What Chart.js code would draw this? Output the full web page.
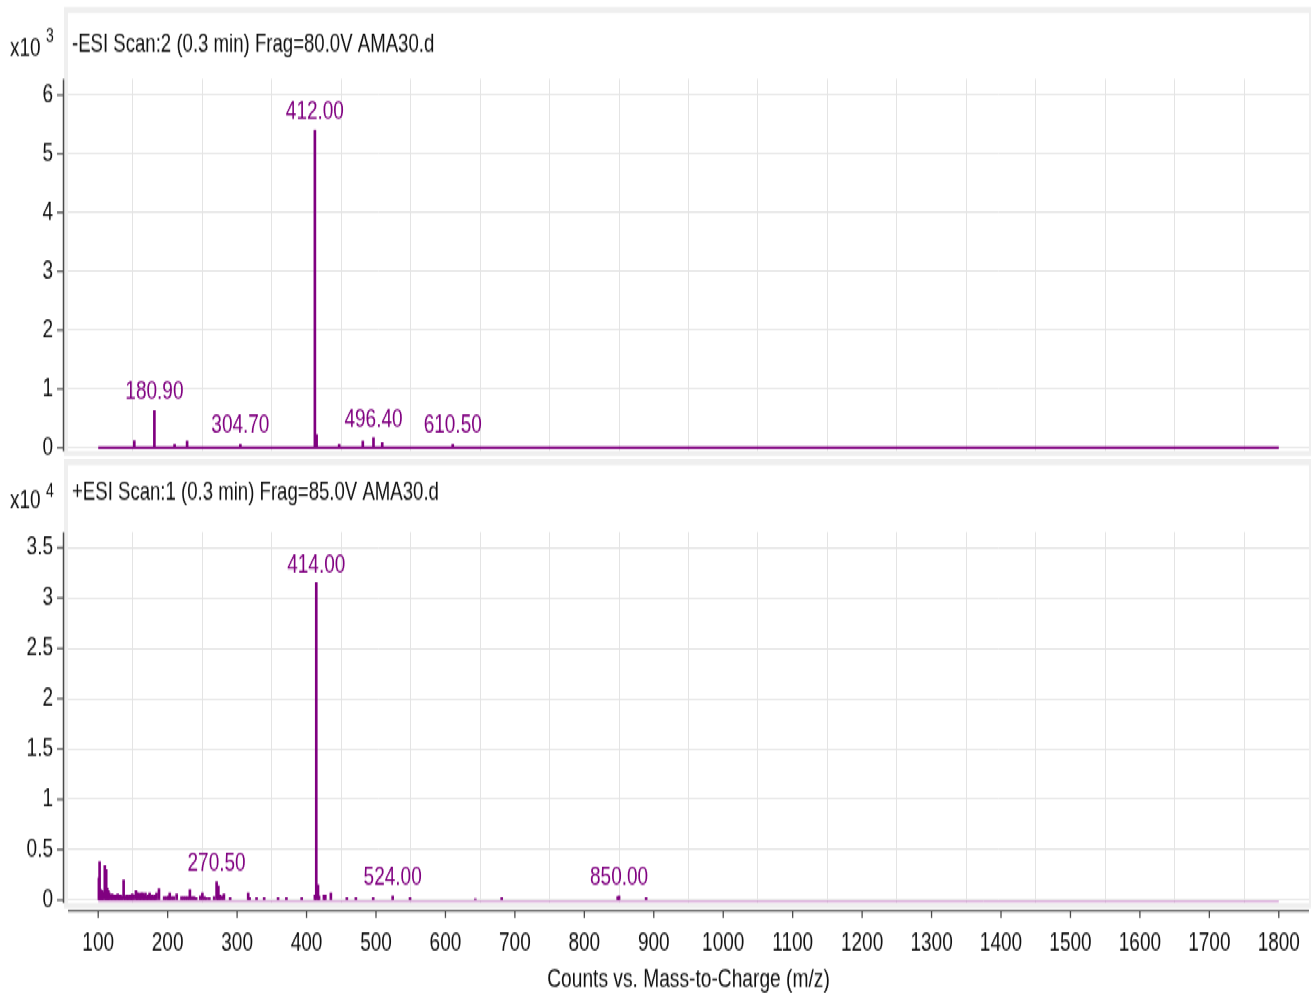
<!DOCTYPE html>
<html><head><meta charset="utf-8">
<script src="https://cdn.jsdelivr.net/npm/chart.js@4.4.1/dist/chart.umd.min.js"></script>
<style>
html,body{margin:0;padding:0;background:#fff;overflow:hidden;width:1311px;height:1001px;}
#wrap{position:absolute;left:0;top:0;width:1311px;transform-origin:0 0;}
canvas{display:block;}
</style></head><body>
<div id="wrap"><canvas id="cTop"></canvas><canvas id="cBot"></canvas></div>
<script>
// ---------------- DATA ----------------
const xTicks = [100,200,300,400,500,600,700,800,900,1000,1100,1200,1300,1400,1500,1600,1700,1800];
const xTitle = 'Counts vs. Mass-to-Charge (m/z)';
const baselineMz = [100, 1800];

// Panel 1: -ESI (x10^3)
const negTitle = '-ESI Scan:2 (0.3 min) Frag=80.0V AMA30.d';
const negExponent = '3';
const negYTicks = [0,1,2,3,4,5,6];
const negBaseline = [0, 0];
const negPeakMz  = [152, 180.9, 210, 228, 304.7, 412.0, 414.5, 447, 481, 496.4, 509, 610.5];
const negPeakInt = [0.12, 0.63, 0.06, 0.11, 0.06, 5.40, 0.22, 0.06, 0.11, 0.17, 0.08, 0.06];
const negLabelMz = [180.9, 304.7, 412.0, 496.4, 610.5];
const negLabelText = ['180.90', '304.70', '412.00', '496.40', '610.50'];

// Panel 2: +ESI (x10^4)
const posTitle = '+ESI Scan:1 (0.3 min) Frag=85.0V AMA30.d';
const posExponent = '4';
const posYTicks = [0,0.5,1,1.5,2,2.5,3,3.5];
const posBaseline = [-0.015, -0.015];
const posPeakMz = [101,102,104,105.5,107,109.5,111.5,113,114.5,116,118,120,122,124,126,128,130,132,134,136.6,139,141,143,145,147,149,151,154.3,156,158,160,162,164,166,168,170,172,174,176,178,180,182,184,187.5,
  195,198,201,203,206,209,213,220,223,226,229,232,235,238,241,247,250,253,256,260,267,270.5,273,275,278,281,290,316,318,328,339,359,371,393,
  412,414.0,416.5,418,425,427,435,458,471,496,524.0,549,643,681,848,850.0,889];
const posPeakInt = [0.22,0.38,0.10,0.09,0.08,0.34,0.30,0.12,0.09,0.07,0.05,0.06,0.05,0.05,0.05,0.06,0.05,0.05,0.04,0.20,0.04,0.05,0.04,0.05,0.05,0.06,0.05,0.09,0.07,0.07,0.06,0.07,0.07,0.05,0.07,0.04,0.05,0.07,0.04,0.05,0.04,0.05,0.07,0.11,
  0.03,0.03,0.04,0.07,0.03,0.03,0.06,0.03,0.03,0.03,0.03,0.10,0.03,0.03,0.02,0.04,0.07,0.03,0.02,0.02,0.03,0.18,0.14,0.05,0.04,0.06,0.02,0.07,0.02,0.02,0.02,0.02,0.02,0.02,
  0.05,3.15,0.15,0.04,0.05,0.05,0.07,0.02,0.02,0.02,0.04,0.02,0.01,0.02,0.03,0.04,0.02];
const posLabelMz = [270.5, 414.0, 524.0, 850.0];
const posLabelText = ['270.50', '414.00', '524.00', '850.00'];

// ---------------- LAYOUT ----------------
const S = 1.4;            // vertical stretch of the whole picture
const W = 1311;
const FONT = '"Liberation Sans", Arial, Helvetica, sans-serif';
const PURPLE = '#800080';
const yi = v => v / S;
document.getElementById('wrap').style.transform = 'scaleY(' + S + ')';
Chart.defaults.font.family = FONT;
Chart.defaults.color = '#111';

function zeroPad(s) { s.paddingTop = 0; s.paddingBottom = 0; s.paddingLeft = 0; s.paddingRight = 0; }

function makePanel(id, p) {
  const cv = document.getElementById(id);
  const H = Math.round(yi(p.canvasH));
  cv.width = W; cv.height = H;
  cv.style.width = W + 'px'; cv.style.height = H + 'px';

  const decor = {
    id: 'decor',
    beforeDraw(chart) {
      const ctx = chart.ctx;
      ctx.save();
      ctx.fillStyle = '#fff'; ctx.fillRect(0, 0, W, H);
      ctx.fillStyle = '#efefef';
      ctx.fillRect(64, yi(p.frameTop), W - 64, yi(p.frameBottom - p.frameTop));
      ctx.fillStyle = '#fff';
      ctx.fillRect(68, yi(p.innerTop), 1309 - 68, yi(p.innerBottom - p.innerTop));
      ctx.restore();
    },
    afterDraw(chart) {
      const ctx = chart.ctx, xs = chart.scales.x, ys = chart.scales.y, a = chart.chartArea;
      ctx.save();
      ctx.strokeStyle = '#4a4a4a';
      ctx.lineWidth = 1.5;
      ctx.beginPath(); ctx.moveTo(63.5, a.top); ctx.lineTo(63.5, a.bottom); ctx.stroke();
      ctx.lineWidth = 1.2;
      ys.ticks.forEach(t => {
        const y = ys.getPixelForValue(t.value);
        ctx.beginPath(); ctx.moveTo(57, y); ctx.lineTo(63.5, y); ctx.stroke();
      });
      if (p.showX) {
        const yAx = a.bottom + yi(8);
        ctx.lineWidth = 1.2;
        ctx.beginPath(); ctx.moveTo(68, yAx); ctx.lineTo(1309, yAx); ctx.stroke();
        ctx.lineWidth = 1.3;
        xs.ticks.forEach(t => {
          const x = xs.getPixelForValue(t.value);
          ctx.beginPath(); ctx.moveTo(x, yAx); ctx.lineTo(x, yAx + yi(7)); ctx.stroke();
        });
      }
      // header
      ctx.fillStyle = '#111'; ctx.textAlign = 'left'; ctx.textBaseline = 'middle';
      ctx.font = '18.6px ' + FONT;
      ctx.fillText(p.title, 72, yi(p.titleY));
      ctx.font = '19px ' + FONT;
      ctx.fillText('x10', 10, yi(p.expY));
      ctx.font = '14px ' + FONT;
      ctx.fillText(p.exponent, 46, yi(p.supY));
      // peak labels
      ctx.fillStyle = PURPLE; ctx.textAlign = 'center'; ctx.textBaseline = 'alphabetic';
      ctx.font = '19px ' + FONT;
      p.labelMz.forEach((mz, i) => {
        const h = p.peakInt[p.peakMz.indexOf(mz)];
        ctx.fillText(p.labelText[i], xs.getPixelForValue(mz), ys.getPixelForValue(h) - yi(11));
      });
      ctx.restore();
    }
  };

  const xScale = {
    type: 'linear', min: 56.5, max: 1843.5, offset: false,
    afterBuildTicks: s => { s.ticks = xTicks.map(v => ({ value: v })); },
    afterFit: s => { s.height = p.showX ? yi(p.canvasH - p.plotBottom) : 0; zeroPad(s); },
    grid: { color: '#e4e4e4', lineWidth: 1, drawTicks: false },
    border: { display: false },
    ticks: p.showX ? { display: true, autoSkip: false, maxRotation: 0, padding: 17, color: '#111', font: { size: 19 }, callback: v => String(v) } : { display: false },
    title: p.showX ? { display: true, text: xTitle, color: '#111', font: { size: 19.2 }, padding: { top: 0, bottom: 4 } } : { display: false }
  };

  return new Chart(cv, {
    type: 'bar',
    data: {
      datasets: [
        { type: 'line', data: baselineMz.map((m, i) => ({ x: m, y: p.baseline[i] })), borderColor: p.baseColor, borderWidth: p.baseWidth, pointRadius: 0, order: 2 },
        { type: 'bar', data: p.peakMz.map((m, i) => ({ x: m, y: p.peakInt[i] })), backgroundColor: PURPLE, borderWidth: 0, barThickness: 2, order: 1 }
      ]
    },
    options: {
      responsive: false, animation: false, events: [],
      layout: { padding: { top: yi(p.plotTop), bottom: p.showX ? 0 : yi(p.canvasH - p.plotBottom), left: 0, right: 2 } },
      plugins: { legend: { display: false }, tooltip: { enabled: false } },
      scales: {
        x: xScale,
        y: {
          min: p.yMin, max: p.yMax,
          afterBuildTicks: s => { s.ticks = p.yTicks.map(v => ({ value: v })); },
          afterFit: s => { s.width = 68; zeroPad(s); },
          grid: { color: '#e4e4e4', lineWidth: 1, drawTicks: false },
          border: { display: false },
          ticks: { padding: 15, color: '#111', font: { size: 19 }, callback: v => String(v) }
        }
      }
    },
    plugins: [decor]
  });
}

makePanel('cTop', {
  canvasH: 459, plotTop: 79, plotBottom: 451,
  frameTop: 7, frameBottom: 456, innerTop: 13, innerBottom: 451,
  yMin: -0.06, yMax: 6.272, yTicks: negYTicks,
  title: negTitle, exponent: negExponent, titleY: 44.5, expY: 48, supY: 37,
  peakMz: negPeakMz, peakInt: negPeakInt, labelMz: negLabelMz, labelText: negLabelText,
  baseline: negBaseline, baseColor: PURPLE, baseWidth: 2.2, showX: false
});
makePanel('cBot', {
  canvasH: 542, plotTop: 73, plotBottom: 444,
  frameTop: 0, frameBottom: 449, innerTop: 6, innerBottom: 444,
  yMin: -0.03, yMax: 3.654, yTicks: posYTicks,
  title: posTitle, exponent: posExponent, titleY: 34, expY: 42, supY: 33,
  peakMz: posPeakMz, peakInt: posPeakInt, labelMz: posLabelMz, labelText: posLabelText,
  baseline: posBaseline, baseColor: '#c986c9', baseWidth: 1, showX: true
});
</script>
</body></html>
